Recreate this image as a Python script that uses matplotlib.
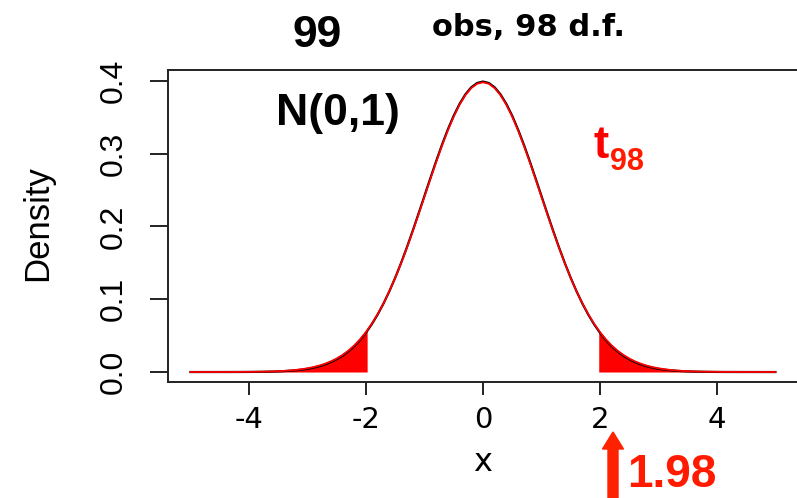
import matplotlib
matplotlib.use('Agg')
import matplotlib.pyplot as plt
import numpy as np
from matplotlib.patches import FancyArrow

# densities, x from -5 to 5 in steps of 0.1
x_vals = np.linspace(-5, 5, 101)
normal_dens = [0.00000, 0.00000, 0.00000, 0.00001, 0.00001, 0.00002, 0.00002, 0.00004, 0.00006, 0.00009,
               0.00013, 0.00020, 0.00029, 0.00042, 0.00061, 0.00087, 0.00123, 0.00172, 0.00238, 0.00327,
               0.00443, 0.00595, 0.00792, 0.01042, 0.01358, 0.01753, 0.02239, 0.02833, 0.03547, 0.04398,
               0.05399, 0.06562, 0.07895, 0.09405, 0.11092, 0.12952, 0.14973, 0.17137, 0.19419, 0.21785,
               0.24197, 0.26609, 0.28969, 0.31225, 0.33322, 0.35207, 0.36827, 0.38139, 0.39104, 0.39695,
               0.39894, 0.39695, 0.39104, 0.38139, 0.36827, 0.35207, 0.33322, 0.31225, 0.28969, 0.26609,
               0.24197, 0.21785, 0.19419, 0.17137, 0.14973, 0.12952, 0.11092, 0.09405, 0.07895, 0.06562,
               0.05399, 0.04398, 0.03547, 0.02833, 0.02239, 0.01753, 0.01358, 0.01042, 0.00792, 0.00595,
               0.00443, 0.00327, 0.00238, 0.00172, 0.00123, 0.00087, 0.00061, 0.00042, 0.00029, 0.00020,
               0.00013, 0.00009, 0.00006, 0.00004, 0.00002, 0.00002, 0.00001, 0.00001, 0.00000, 0.00000,
               0.00000]
t98_dens = [0.00000, 0.00001, 0.00001, 0.00002, 0.00002, 0.00004, 0.00005, 0.00008, 0.00011, 0.00016,
            0.00022, 0.00031, 0.00044, 0.00062, 0.00085, 0.00117, 0.00159, 0.00216, 0.00291, 0.00388,
            0.00514, 0.00676, 0.00881, 0.01141, 0.01464, 0.01865, 0.02356, 0.02948, 0.03659, 0.04503,
            0.05493, 0.06639, 0.07953, 0.09441, 0.11102, 0.12936, 0.14932, 0.17070, 0.19329, 0.21676,
            0.24073, 0.26475, 0.28830, 0.31087, 0.33187, 0.35077, 0.36705, 0.38024, 0.38996, 0.39592,
            0.39792, 0.39592, 0.38996, 0.38024, 0.36705, 0.35077, 0.33187, 0.31087, 0.28830, 0.26475,
            0.24073, 0.21676, 0.19329, 0.17070, 0.14932, 0.12936, 0.11102, 0.09441, 0.07953, 0.06639,
            0.05493, 0.04503, 0.03659, 0.02948, 0.02356, 0.01865, 0.01464, 0.01141, 0.00881, 0.00676,
            0.00514, 0.00388, 0.00291, 0.00216, 0.00159, 0.00117, 0.00085, 0.00062, 0.00044, 0.00031,
            0.00022, 0.00016, 0.00011, 0.00008, 0.00005, 0.00004, 0.00002, 0.00002, 0.00001, 0.00001,
            0.00000]
t_crit = 1.98
crit_dens = 0.0571

x_ticks = [-4, -2, 0, 2, 4]
y_ticks = [0.0, 0.1, 0.2, 0.3, 0.4]

normal_dens = np.array(normal_dens)
t98_dens = np.array(t98_dens)

plt.rcParams['axes.unicode_minus'] = False

fig = plt.figure(figsize=(7.97, 4.98), dpi=100)
ax = fig.add_axes([168 / 797, (498 - 382) / 498, (797 - 168) / 797, (382 - 70) / 498])

ax.plot(x_vals, normal_dens, color='black', linewidth=1.6)
ax.plot(x_vals, t98_dens, color='red', linewidth=1.3)

# shaded tails beyond +-1.98
left = x_vals < -t_crit
right = x_vals > t_crit
lx = np.append(x_vals[left], -t_crit)
ly = np.append(t98_dens[left], crit_dens)
rx = np.insert(x_vals[right], 0, t_crit)
ry = np.insert(t98_dens[right], 0, crit_dens)
ax.fill_between(lx, ly, color='red', linewidth=0)
ax.fill_between(rx, ry, color='red', linewidth=0)

ax.set_xlim(-5.385, 5.37)
ax.set_ylim(-0.0137, 0.4148)
ax.spines['right'].set_visible(False)
for s in ['left', 'bottom', 'top']:
    ax.spines[s].set_linewidth(1.4)
    ax.spines[s].set_color('#222222')

ax.set_xticks(x_ticks)
ax.set_xticklabels([str(v) for v in x_ticks], fontsize=21, family='DejaVu Sans')
ax.set_yticks(y_ticks)
ax.set_yticklabels(['%.1f' % v for v in y_ticks], fontsize=23, family='Liberation Sans',
                   rotation=90, va='center')
ax.tick_params(axis='x', length=9, width=1.4, pad=8, color='#222222')
ax.tick_params(axis='y', length=13, width=1.4, pad=15, color='#222222')

fig.text(38 / 797, 1 - 223 / 498, 'Density', rotation=90, ha='center', va='center',
         fontsize=25, family='Liberation Sans')
fig.text(483 / 797, 1 - 462 / 498, 'x', ha='center', va='center', fontsize=23,
         family='DejaVu Sans')

# title pieces
fig.text(317 / 797, 1 - 47 / 498, '99', ha='center', va='baseline', fontsize=32,
         fontweight='bold', family='Liberation Sans')
fig.text(529 / 797, 1 - 36 / 498, 'obs, 98 d.f.', ha='center', va='baseline', fontsize=22,
         fontweight='bold', family='DejaVu Sans')

fig.text(276 / 797, 1 - 125 / 498, 'N(0,1)', ha='left', va='baseline', fontsize=32,
         fontweight='bold', family='Liberation Sans')
fig.text(594 / 797, 1 - 158 / 498, 't', ha='left', va='baseline', fontsize=33,
         fontweight='bold', family='Liberation Sans', color='red')
fig.text(610 / 797, 1 - 170 / 498, '98', ha='left', va='baseline', fontsize=22,
         fontweight='bold', family='Liberation Sans', color='#ff1a00')

# arrow pointing at 1.98
arrow = FancyArrow(613 / 797, -0.01, 0, (498 - 432) / 498 + 0.01, width=10 / 797,
                   head_width=21 / 797, head_length=17 / 498, length_includes_head=True,
                   color='#ff2200', transform=fig.transFigure)
fig.add_artist(arrow)
fig.text(627 / 797, 1 - 497 / 498, '1.98', ha='left', va='bottom', fontsize=33,
         fontweight='bold', family='Liberation Sans', color='#ff1a00')

fig.savefig('out.png', dpi=100)
